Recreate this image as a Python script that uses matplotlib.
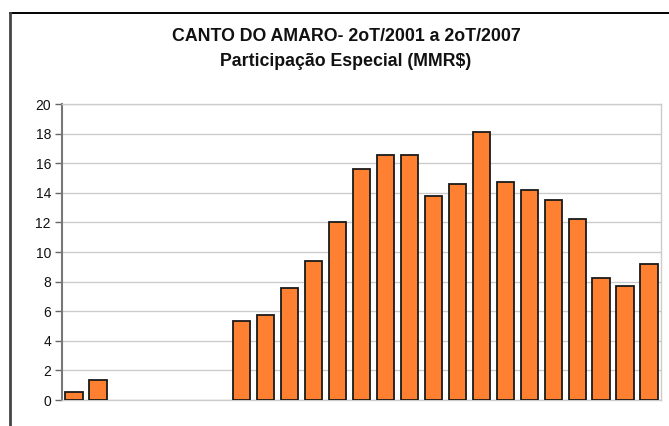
import matplotlib
matplotlib.use("Agg")
import matplotlib.pyplot as plt
from matplotlib.lines import Line2D
import numpy as np

quarters = ["2T/2001", "3T/2001", "4T/2001",
            "1T/2002", "2T/2002", "3T/2002", "4T/2002",
            "1T/2003", "2T/2003", "3T/2003", "4T/2003",
            "1T/2004", "2T/2004", "3T/2004", "4T/2004",
            "1T/2005", "2T/2005", "3T/2005", "4T/2005",
            "1T/2006", "2T/2006", "3T/2006", "4T/2006",
            "1T/2007", "2T/2007"]
values = [0.56, 1.37, 0, 0, 0, 0, 0,
          5.32, 5.77, 7.59, 9.39, 12.0, 15.63, 16.55, 16.55,
          13.8, 14.6, 18.13, 14.75, 14.17, 13.49, 12.23,
          8.27, 7.68, 9.17]
yticks = [0, 2, 4, 6, 8, 10, 12, 14, 16, 18, 20]
title = "CANTO DO AMARO- 2oT/2001 a 2oT/2007\nParticipação Especial (MMR$)"

plt.rcParams['font.family'] = ['Liberation Sans', 'DejaVu Sans']

W, H = 669, 426
fig = plt.figure(figsize=(W / 100, H / 100), dpi=100)
ax = fig.add_axes([62 / W, 1 - 400 / H, (661 - 62) / W, (400 - 104) / H])

x = np.arange(len(values))
mask = [v > 0 for v in values]
ax.bar(x[mask], np.array(values)[mask], width=0.72, color='#FF8030',
       edgecolor='#1a1a1a', linewidth=1.3, zorder=3)

ax.set_xlim(-0.5, len(values) - 0.5)
ax.set_ylim(0, 20)
ax.set_yticks(yticks)
ax.set_yticklabels([str(t) for t in yticks], fontsize=10, color='#111111')
ax.set_xticks([])
ax.yaxis.grid(True, color='#cccccc', linewidth=1.0, zorder=0)
ax.set_axisbelow(True)
ax.tick_params(axis='y', length=5, width=1, color='#666666', pad=3)

for side in ['top', 'right', 'bottom']:
    ax.spines[side].set_color('#cccccc')
    ax.spines[side].set_linewidth(1.0)
ax.spines['left'].set_color('#777777')
ax.spines['left'].set_linewidth(1.5)

fig.text(346 / W, 1 - 49 / H, title, ha='center', va='center',
         fontsize=12.8, fontweight='bold', linespacing=1.6, color='#111111')

# outer chart frame (cropped)
fig.add_artist(Line2D([9.5 / W, 1.0], [1 - 12.5 / H] * 2, transform=fig.transFigure,
                      color='black', linewidth=1.4))
fig.add_artist(Line2D([9.5 / W] * 2, [0, 1 - 12.5 / H], transform=fig.transFigure,
                      color='#444444', linewidth=2.0))

fig.savefig("out.png", dpi=100)
